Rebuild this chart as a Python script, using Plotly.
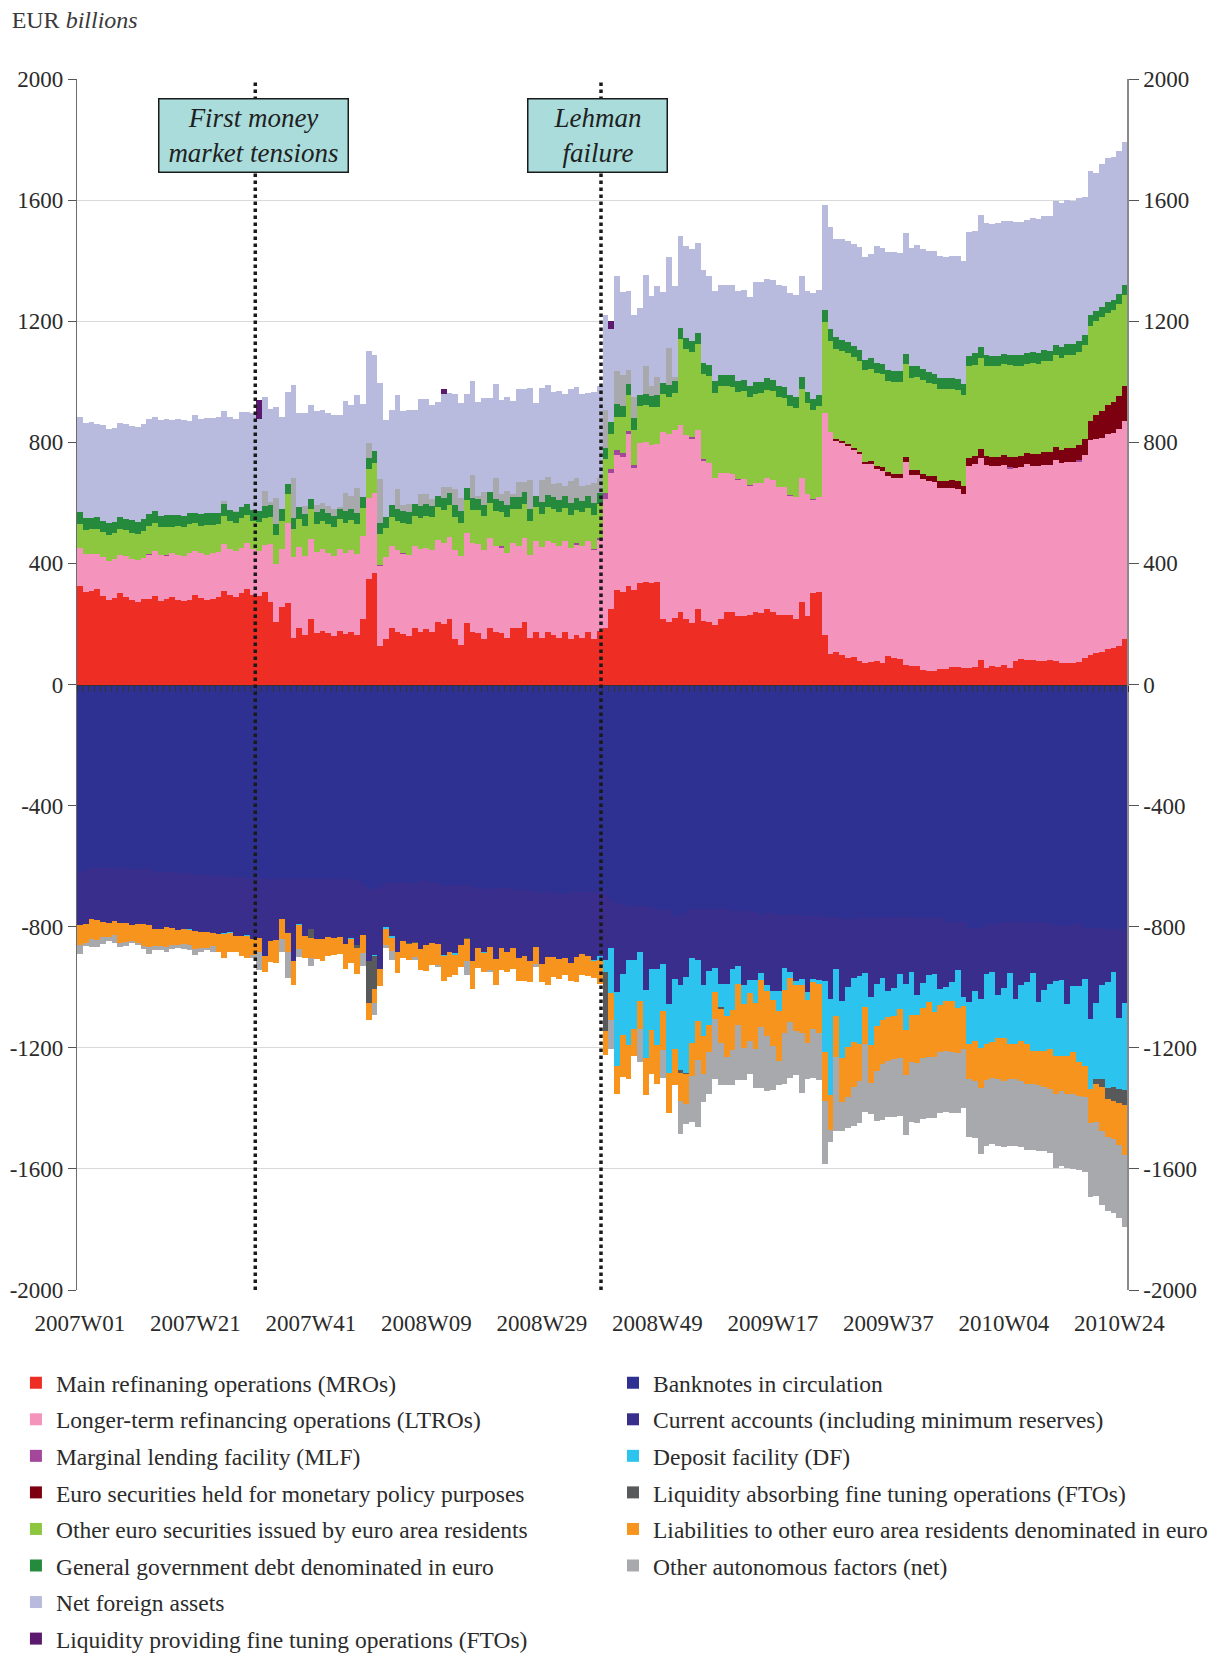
import plotly.graph_objects as go

# week categories 2007W01 .. 2010W25 (ISO weeks: 2009 has 53)
weeks = []
for year, n_weeks in [(2007, 52), (2008, 52), (2009, 53), (2010, 25)]:
    for w in range(1, n_weeks + 1):
        weeks.append('%dW%02d' % (year, w))

tick_labels = ['2007W01', '2007W21', '2007W41', '2008W09', '2008W29',
               '2008W49', '2009W17', '2009W37', '2010W04', '2010W24']
y_ticks = [2000, 1600, 1200, 800, 400, 0, -400, -800, -1200, -1600, -2000]

# ---- liquidity providing factors (EUR bn) ----
mro = [
    327, 307, 310, 314, 292, 279, 285, 301, 288, 279,
    272, 281, 281, 292, 277, 281, 288, 279, 275, 279,
    294, 285, 279, 283, 288, 310, 296, 290, 301, 314,
    296, 292, 307, 274, 208, 255, 268, 153, 188, 162,
    215, 169, 177, 169, 160, 177, 166, 175, 162, 218,
    347, 367, 127, 149, 188, 173, 166, 160, 185, 175,
    182, 175, 208, 199, 215, 149, 129, 202, 173, 169,
    149, 188, 175, 169, 152, 188, 186, 205, 152, 175,
    155, 175, 165, 155, 172, 149, 165, 155, 175, 149,
    178, 188, 248, 311, 304, 324, 311, 334, 337, 334,
    340, 218, 208, 221, 238, 215, 202, 251, 211, 205,
    195, 215, 238, 241, 225, 225, 228, 238, 235, 248,
    241, 231, 231, 228, 218, 274, 225, 301, 307, 165,
    102, 106, 99, 86, 92, 79, 71, 73, 77, 70,
    93, 86, 83, 63, 60, 60, 49, 46, 46, 50,
    50, 57, 57, 53, 53, 57, 80, 53, 60, 57,
    63, 53, 77, 83, 80, 80, 77, 77, 80, 77,
    70, 70, 70, 73, 87, 96, 103, 107, 116, 121,
    126, 150,
]
ltro = [
    123, 123, 120, 116, 130, 129, 128, 128, 136, 136,
    139, 137, 148, 150, 152, 146, 147, 149, 149, 154,
    148, 148, 149, 152, 149, 153, 150, 152, 150, 152,
    150, 149, 155, 189, 189, 191, 264, 268, 265, 264,
    264, 268, 269, 264, 264, 269, 270, 270, 268, 272,
    268, 267, 265, 271, 268, 270, 268, 269, 271, 271,
    268, 268, 268, 270, 271, 294, 294, 297, 293, 294,
    294, 295, 284, 284, 284, 278, 273, 278, 275, 298,
    298, 298, 301, 304, 301, 301, 299, 304, 298, 296,
    302, 424, 449, 446, 446, 502, 404, 463, 463, 456,
    453, 616, 620, 620, 618, 610, 611, 590, 528, 528,
    486, 483, 460, 454, 451, 453, 429, 429, 432, 433,
    433, 422, 420, 397, 401, 407, 405, 310, 312, 731,
    731, 701, 701, 704, 683, 681, 657, 655, 634, 636,
    596, 597, 600, 673, 632, 632, 630, 625, 623, 599,
    599, 592, 589, 575, 668, 670, 668, 672, 661, 664,
    662, 659, 638, 636, 647, 643, 644, 648, 645, 664,
    660, 664, 664, 665, 671, 711, 707, 706, 711, 710,
    719, 721,
]
mlf = [
    0, 0, 0, 0, 0, 0, 0, 0, 0, 0,
    0, 0, 2, 0, 0, 2, 0, 0, 0, 0,
    0, 0, 0, 0, 0, 0, 0, 0, 0, 0,
    0, 0, 0, 0, 0, 0, 0, 0, 0, 0,
    0, 0, 0, 0, 0, 0, 0, 0, 0, 0,
    0, 0, 4, 0, 0, 0, 2, 0, 0, 0,
    0, 0, 0, 0, 0, 0, 0, 0, 0, 0,
    0, 0, 0, 3, 0, 0, 0, 0, 0, 0,
    0, 0, 0, 0, 0, 0, 2, 0, 0, 3,
    5, 22, 15, 16, 16, 10, 10, 0, 0, 0,
    0, 0, 0, 0, 0, 0, 4, 0, 5, 0,
    0, 0, 0, 0, 2, 0, 2, 0, 0, 0,
    0, 0, 0, 2, 0, 0, 0, 2, 0, 0,
    0, 0, 0, 0, 0, 0, 0, 0, 0, 0,
    0, 0, 0, 0, 0, 0, 0, 0, 0, 0,
    0, 0, 0, 0, 0, 0, 0, 0, 0, 0,
    0, 7, 0, 0, 0, 0, 0, 0, 0, 0,
    0, 0, 0, 3, 0, 0, 0, 0, 0, 0,
    0, 0,
]
euro_sec_mpp = [
    0, 0, 0, 0, 0, 0, 0, 0, 0, 0,
    0, 0, 0, 0, 0, 0, 0, 0, 0, 0,
    0, 0, 0, 0, 0, 0, 0, 0, 0, 0,
    0, 0, 0, 0, 0, 0, 0, 0, 0, 0,
    0, 0, 0, 0, 0, 0, 0, 0, 0, 0,
    0, 0, 0, 0, 0, 0, 0, 0, 0, 0,
    0, 0, 0, 0, 0, 0, 0, 0, 0, 0,
    0, 0, 0, 0, 0, 0, 0, 0, 0, 0,
    0, 0, 0, 0, 0, 0, 0, 0, 0, 0,
    0, 0, 0, 0, 0, 0, 0, 0, 0, 0,
    0, 0, 0, 0, 0, 0, 0, 0, 0, 0,
    0, 0, 0, 0, 0, 0, 0, 0, 0, 0,
    0, 0, 0, 0, 0, 0, 0, 0, 0, 0,
    0, 3, 4, 5, 6, 7, 8, 9, 10, 11,
    12, 12, 13, 14, 15, 16, 17, 19, 21, 22,
    23, 25, 26, 27, 28, 29, 29, 30, 31, 32,
    33, 34, 35, 37, 39, 40, 41, 42, 43, 44,
    45, 46, 48, 50, 52, 65, 79, 90, 97, 101,
    107, 115,
]
other_euro_sec = [
    79, 79, 82, 82, 82, 85, 86, 86, 85, 86,
    85, 90, 93, 90, 91, 90, 86, 97, 97, 98,
    92, 91, 99, 93, 92, 93, 95, 92, 99, 93,
    93, 96, 88, 91, 96, 94, 96, 94, 95, 98,
    100, 92, 94, 96, 97, 100, 98, 98, 99, 94,
    98, 97, 100, 96, 98, 97, 98, 100, 99, 103,
    105, 109, 109, 106, 106, 109, 109, 109, 109, 112,
    112, 115, 113, 113, 116, 113, 120, 112, 112, 112,
    109, 112, 113, 110, 109, 109, 109, 110, 110, 111,
    110, 112, 114, 112, 116, 119, 115, 122, 122, 126,
    123, 125, 121, 121, 285, 282, 280, 283, 282, 285,
    281, 287, 287, 287, 289, 291, 291, 292, 295, 291,
    295, 296, 294, 292, 293, 294, 299, 294, 300, 301,
    301, 297, 298, 300, 300, 301, 303, 305, 308, 307,
    303, 303, 303, 307, 306, 309, 309, 305, 301, 304,
    304, 301, 300, 300, 302, 299, 301, 298, 300, 299,
    301, 302, 302, 296, 294, 298, 298, 302, 300, 302,
    303, 309, 305, 307, 311, 311, 311, 311, 303, 305,
    305, 300,
]
gov_debt = [
    40, 40, 39, 40, 37, 39, 39, 39, 39, 41,
    42, 40, 38, 40, 36, 40, 40, 36, 36, 34,
    34, 38, 38, 40, 39, 39, 36, 36, 36, 36,
    39, 35, 40, 39, 36, 39, 35, 36, 37, 38,
    35, 41, 39, 36, 35, 35, 38, 38, 38, 36,
    36, 39, 36, 38, 38, 39, 39, 40, 40, 39,
    40, 36, 36, 40, 39, 40, 40, 40, 40, 37,
    37, 37, 40, 36, 40, 39, 39, 40, 40, 36,
    40, 40, 39, 39, 39, 39, 40, 36, 39, 39,
    39, 36, 41, 41, 37, 37, 39, 36, 37, 36,
    39, 36, 39, 40, 36, 37, 36, 36, 37, 37,
    40, 37, 37, 40, 36, 36, 36, 39, 36, 40,
    36, 36, 37, 36, 37, 40, 36, 36, 36, 39,
    40, 40, 36, 37, 36, 36, 33, 36, 34, 36,
    36, 37, 37, 36, 39, 36, 36, 36, 36, 37,
    37, 37, 37, 37, 35, 39, 36, 35, 34, 32,
    33, 35, 35, 35, 36, 36, 36, 35, 35, 36,
    36, 37, 37, 36, 33, 36, 33, 32, 36, 33,
    32, 33,
]
net_foreign_assets = [
    316, 316, 315, 310, 315, 311, 310, 311, 314, 313,
    313, 312, 314, 313, 318, 317, 312, 317, 316, 306,
    321, 316, 315, 312, 315, 295, 305, 304, 315, 305,
    318, 306, 308, 308, 303, 304, 302, 305, 311, 308,
    310, 310, 308, 306, 308, 305, 305, 300, 305, 306,
    304, 318, 317, 319, 314, 310, 310, 311, 311, 314,
    314, 310, 311, 308, 311, 314, 314, 311, 311, 311,
    310, 310, 311, 311, 311, 308, 307, 307, 305, 308,
    305, 305, 304, 304, 304, 304, 301, 304, 304, 303,
    303, 313, 307, 313, 274, 261, 271, 288, 301, 298,
    301, 301, 301, 301, 304, 304, 304, 298, 307, 294,
    297, 297, 297, 297, 298, 298, 295, 331, 331, 327,
    331, 334, 334, 338, 337, 334, 334, 351, 348, 348,
    337, 324, 334, 334, 338, 341, 341, 345, 385, 381,
    389, 392, 390, 397, 390, 400, 397, 400, 404, 402,
    400, 402, 406, 406, 407, 404, 436, 438, 436, 441,
    439, 440, 440, 440, 439, 443, 443, 443, 444, 475,
    477, 473, 473, 473, 456, 477, 456, 473, 475, 474,
    473, 472,
]
fto_providing = [
    0, 0, 0, 0, 0, 0, 0, 0, 0, 0,
    0, 0, 0, 0, 0, 0, 0, 0, 0, 0,
    0, 0, 0, 0, 0, 0, 0, 0, 0, 0,
    0, 61, 0, 0, 0, 0, 0, 0, 0, 0,
    0, 0, 0, 0, 0, 0, 0, 0, 0, 0,
    0, 0, 0, 0, 0, 0, 0, 0, 0, 0,
    0, 0, 0, 16, 0, 0, 0, 0, 0, 0,
    0, 0, 0, 0, 0, 0, 0, 0, 0, 0,
    0, 0, 0, 0, 0, 0, 0, 0, 0, 0,
    0, 0, 26, 0, 0, 0, 0, 0, 0, 0,
    0, 0, 0, 0, 0, 0, 0, 0, 0, 0,
    0, 0, 0, 0, 0, 0, 0, 0, 0, 0,
    0, 0, 0, 0, 0, 0, 0, 0, 0, 0,
    0, 0, 0, 0, 0, 0, 0, 0, 0, 0,
    0, 0, 0, 0, 0, 0, 0, 0, 0, 0,
    0, 0, 0, 0, 0, 0, 0, 0, 0, 0,
    0, 0, 0, 0, 0, 0, 0, 0, 0, 0,
    0, 0, 0, 0, 0, 0, 0, 0, 0, 0,
    0, 0,
]
# net value, shown above when positive and below when negative
other_autonomous = [
    -29, -11, -27, -25, -22, -12, -26, -14, -15, -8,
    -6, -11, -21, -15, -11, -14, -14, -11, -18, -14,
    -19, -11, -7, -18, 0, 12, 0, 4, 0, 0,
    -11, -60, 50, 10, 86, -41, -83, 132, -27, 28,
    -27, 22, 19, 25, 25, 5, 59, 41, 83, -42,
    50, -39, 146, -12, -28, 66, 19, 26, -8, 40,
    33, 24, -9, 36, 20, 53, 43, -48, 76, 9,
    43, -9, 69, 23, 46, 10, 50, 33, 95, -6,
    72, 59, 43, 57, 34, 73, 66, 50, 36, 66,
    49, 125, -96, 110, 103, 46, 70, -108, 92, 33,
    60, -93, 123, 13, -109, -66, -152, -221, -93, -139,
    -198, -139, -93, -116, -182, -106, -109, -129, -202, -182,
    -145, -79, -169, -185, -145, -198, -119, -162, -155, -208,
    -40, -245, -96, -102, -129, -139, -226, -104, -164, -184,
    -185, -191, -190, -198, -200, -198, -201, -200, -200, -202,
    -201, -203, -198, -194, -192, -189, -218, -219, -219, -221,
    -219, -222, -222, -217, -219, -219, -216, -214, -213, -246,
    -249, -246, -246, -246, -248, -242, -245, -243, -245, -242,
    -240, -236,
]

# ---- liquidity absorbing factors (EUR bn) ----
banknotes = [
    -620, -614, -607, -607, -607, -607, -607, -607, -609, -609,
    -609, -609, -609, -623, -619, -619, -619, -623, -623, -623,
    -628, -628, -628, -631, -631, -631, -636, -636, -636, -640,
    -640, -640, -642, -642, -642, -641, -641, -641, -641, -641,
    -641, -642, -642, -642, -642, -642, -642, -647, -647, -659,
    -676, -676, -669, -656, -656, -651, -651, -654, -654, -650,
    -650, -656, -656, -667, -667, -663, -663, -663, -667, -674,
    -674, -674, -672, -672, -672, -678, -678, -678, -678, -687,
    -687, -687, -687, -691, -691, -684, -684, -684, -684, -684,
    -684, -694, -713, -724, -724, -731, -731, -731, -735, -735,
    -744, -744, -744, -764, -764, -755, -742, -742, -742, -742,
    -740, -740, -740, -747, -747, -747, -747, -750, -762, -755,
    -755, -762, -762, -762, -762, -764, -764, -764, -764, -768,
    -768, -768, -773, -773, -773, -771, -771, -771, -771, -771,
    -767, -767, -767, -767, -771, -771, -771, -771, -771, -771,
    -785, -785, -785, -785, -805, -805, -805, -791, -791, -791,
    -785, -785, -785, -785, -785, -785, -789, -789, -789, -797,
    -797, -797, -792, -792, -805, -805, -805, -805, -808, -808,
    -808, -808,
]
current_accounts = [
    -176, -177, -168, -172, -177, -182, -173, -181, -179, -185,
    -182, -182, -187, -184, -188, -181, -184, -187, -185, -185,
    -185, -190, -188, -189, -192, -190, -183, -194, -196, -188,
    -201, -196, -256, -205, -203, -134, -180, -272, -152, -189,
    -167, -197, -197, -191, -194, -191, -214, -192, -213, -168,
    -237, -218, -270, -147, -177, -231, -195, -200, -197, -222,
    -212, -198, -200, -228, -216, -226, -197, -175, -246, -195,
    -210, -192, -234, -198, -211, -192, -226, -218, -235, -179,
    -235, -214, -212, -216, -212, -235, -215, -205, -212, -228,
    -212, -215, -157, -293, -231, -178, -178, -152, -273, -204,
    -195, -178, -311, -208, -228, -210, -161, -167, -250, -204,
    -196, -249, -249, -192, -182, -245, -228, -225, -190, -237,
    -257, -250, -174, -187, -217, -208, -251, -208, -211, -211,
    -270, -171, -272, -225, -196, -191, -182, -262, -217, -200,
    -247, -236, -190, -222, -180, -256, -215, -190, -184, -236,
    -214, -196, -159, -248, -244, -209, -235, -166, -159, -236,
    -219, -168, -255, -206, -198, -168, -260, -221, -201, -182,
    -180, -259, -205, -205, -169, -301, -248, -186, -173, -140,
    -293, -245,
]
deposit_facility = [
    0, 0, 0, 0, 0, 0, 0, 0, 0, 0,
    0, 0, 0, 0, 0, 0, 0, 0, 0, -2,
    0, 0, 0, 0, 0, -2, -2, 0, 0, -2,
    0, 0, 0, 0, 0, 0, 0, 0, -2, 0,
    0, 0, 0, 0, 0, 0, 0, -2, 0, 0,
    0, -4, 0, -4, -3, 0, 0, 0, 0, 0,
    0, 0, 0, -3, 0, -3, 0, 0, 0, 0,
    -3, 0, 0, 0, 0, 0, 0, 0, 0, 0,
    0, 0, 0, 0, 0, 0, 0, 0, 0, -2,
    -13, -40, -149, -243, -202, -281, -228, -162, -225, -202,
    -251, -158, -228, -231, -281, -319, -281, -202, -168, -179,
    -79, -79, -105, -135, -60, -62, -45, -76, -23, -20,
    -30, -66, -73, -20, -13, -20, -26, -10, -14, -234,
    -317, -155, -188, -199, -211, -225, -111, -159, -141, -138,
    -85, -91, -116, -153, -142, -66, -83, -88, -127, -53,
    -48, -66, -126, -29, -137, -162, -161, -229, -231, -142,
    -165, -233, -149, -188, -205, -259, -163, -200, -215, -247,
    -249, -170, -217, -250, -285, -229, -251, -313, -352, -382,
    -235, -287,
]
fto_absorbing = [
    0, 0, 0, 0, 0, 0, 0, 0, 0, 0,
    0, 0, 0, 0, 0, 0, 0, 0, 0, 0,
    0, 0, 0, 0, 0, 0, 0, 0, 0, 0,
    0, 0, 0, 0, 0, 0, 0, 0, 0, 0,
    -30, 0, 0, 0, 0, 0, 0, 0, -9, 0,
    -139, -107, 0, 0, 0, 0, 0, -3, -3, 0,
    0, 0, 0, 0, 0, 0, 0, -3, 0, 0,
    0, 0, 0, 0, 0, 0, 0, 0, 0, 0,
    0, 0, 0, 0, 0, 0, 0, 0, 0, 0,
    0, -195, 0, 0, 0, 0, 0, 0, 0, 0,
    0, 0, 0, 0, -10, -2, 0, 0, 0, 0,
    0, -3, 0, 0, 0, 0, 0, 0, 0, 0,
    0, 0, 0, 0, 0, 0, 0, 0, 0, 0,
    0, 0, 0, 0, 0, 0, 0, 0, 0, 0,
    0, 0, 0, 0, 0, 0, 0, 0, 0, 0,
    0, 0, 0, 0, 0, 0, 0, 0, 0, 0,
    0, 0, 0, 0, 0, 0, 0, 0, 0, 0,
    0, 0, 0, 0, 0, 0, -16, -26, -35, -45,
    -47, -50,
]
liabilities_other = [
    -64, -63, -66, -64, -50, -45, -48, -66, -62, -52,
    -63, -72, -72, -56, -58, -68, -57, -50, -48, -52,
    -61, -53, -55, -45, -59, -82, -61, -53, -66, -74,
    -52, -46, -50, -71, -75, -66, -64, -79, -79, -72,
    -64, -68, -74, -65, -58, -58, -83, -79, -86, -60,
    -56, -47, -58, -52, -45, -72, -57, -52, -47, -71,
    -84, -72, -69, -80, -82, -68, -72, -72, -93, -66,
    -61, -76, -88, -73, -68, -69, -75, -83, -68, -60,
    -60, -90, -68, -65, -58, -60, -85, -69, -68, -56,
    -79, -79, -88, -93, -138, -112, -89, -93, -122, -145,
    -129, -127, -132, -119, -93, -99, -109, -129, -126, -88,
    -89, -112, -136, -132, -136, -147, -156, -152, -155, -149,
    -152, -165, -142, -145, -152, -159, -142, -155, -162, -162,
    -116, -136, -145, -165, -149, -122, -122, -124, -149, -145,
    -144, -143, -162, -148, -153, -158, -166, -182, -149, -153,
    -164, -166, -148, -142, -116, -134, -132, -120, -119, -133,
    -141, -117, -114, -131, -131, -107, -112, -118, -130, -125,
    -117, -125, -139, -112, -104, -115, -126, -146, -125, -127,
    -139, -165,
]

series_check = dict(mro=mro, ltro=ltro, mlf=mlf, euro_sec_mpp=euro_sec_mpp,
                    other_euro_sec=other_euro_sec, gov_debt=gov_debt,
                    net_foreign_assets=net_foreign_assets, fto_providing=fto_providing,
                    other_autonomous=other_autonomous, banknotes=banknotes,
                    current_accounts=current_accounts, deposit_facility=deposit_facility,
                    fto_absorbing=fto_absorbing, liabilities_other=liabilities_other)
for k, v in series_check.items():
    if len(v) != len(weeks):
        raise ValueError('%s has %d values, expected %d' % (k, len(v), len(weeks)))

autonomous_pos = [max(v, 0) for v in other_autonomous]
autonomous_neg = [min(v, 0) for v in other_autonomous]

SERIF = 'Liberation Serif'
TEXT = '#2b2b2b'

# stacking order = trace order (positives upward, negatives downward)
layers = [
    ('Main refinaning operations (MROs)', mro, '#EE2D24', 'legend', True),
    ('Longer-term refinancing operations (LTROs)', ltro, '#F493BC', 'legend', True),
    ('Marginal lending facility (MLF)', mlf, '#A3479B', 'legend', True),
    ('Euro securities held for monetary policy purposes', euro_sec_mpp, '#7D0011', 'legend', True),
    ('Other euro securities issued by euro area residents', other_euro_sec, '#8DC63F', 'legend', True),
    ('General government debt denominated in euro', gov_debt, '#268A3C', 'legend', True),
    ('Other autonomous factors (net)', autonomous_pos, '#A7A9AC', 'legend2', False),
    ('Net foreign assets', net_foreign_assets, '#B8BBDE', 'legend', True),
    ('Liquidity providing fine tuning operations (FTOs)', fto_providing, '#5C1A6E', 'legend', True),
    ('Banknotes in circulation', banknotes, '#2E3192', 'legend2', True),
    ('Current accounts (including minimum reserves)', current_accounts, '#3A2E8D', 'legend2', True),
    ('Deposit facility (DF)', deposit_facility, '#2CC4EE', 'legend2', True),
    ('Liquidity absorbing fine tuning operations (FTOs)', fto_absorbing, '#58595B', 'legend2', True),
    ('Liabilities to other euro area residents denominated in euro', liabilities_other, '#F7941E', 'legend2', True),
    ('Other autonomous factors (net)', autonomous_neg, '#A7A9AC', 'legend2', True),
]

fig = go.Figure()
for name, values, color, legend, show in layers:
    fig.add_trace(go.Bar(
        x=weeks, y=values, name=name, marker_color=color, marker_line_width=0,
        legend=legend, showlegend=show, legendgroup=name,
    ))

# invisible trace so the overlay axes (zero line ticks, right axis) get drawn
fig.add_trace(go.Scatter(x=[None], y=[None], xaxis='x2', yaxis='y2',
                         showlegend=False, hoverinfo='skip'))

# event markers
for xpos in [30.37, 90.24]:
    fig.add_shape(type='line', x0=xpos, x1=xpos, y0=-2000, y1=2000, xref='x', yref='y',
                  line=dict(color='#1a1a1a', width=3.5, dash='dot'), layer='above')

box_font = dict(family=SERIF, size=27, color='#1f1f1f')
fig.add_annotation(x=29.98, y=1815, xref='x', yref='y', showarrow=False,
                   text='<i>First money<br>market tensions</i>', font=box_font,
                   bgcolor='#A9DCDB', bordercolor='#1a1a1a', borderwidth=1.5,
                   borderpad=0, width=188, height=72)
fig.add_annotation(x=89.6, y=1815, xref='x', yref='y', showarrow=False,
                   text='<i>Lehman<br>failure</i>', font=box_font,
                   bgcolor='#A9DCDB', bordercolor='#1a1a1a', borderwidth=1.5,
                   borderpad=0, width=138, height=72)

legend_style = dict(font=dict(family=SERIF, size=23.5, color=TEXT), bgcolor='rgba(0,0,0,0)',
                    orientation='v', tracegroupgap=3, itemwidth=30,
                    yanchor='top', xanchor='left')

y_ticktext = [str(v) for v in y_ticks]

# the page body adds an 8px offset, so the figure is 8px smaller than the window
fig.update_layout(
    width=1211, height=1649,
    template='plotly_white',
    barmode='relative', bargap=0,
    plot_bgcolor='white', paper_bgcolor='white',
    font=dict(family=SERIF, color=TEXT),
    margin=dict(l=69, r=91, t=71, b=367, autoexpand=False),
    title=dict(text='EUR <i>billions</i>', x=0.003, xanchor='left', y=0.998, yanchor='top',
               font=dict(family=SERIF, size=24, color='#3a3a3a')),
    xaxis=dict(
        type='category', range=[-0.5, 181.5],
        tickmode='array', tickvals=tick_labels, ticktext=tick_labels,
        ticks='', showgrid=False, showline=False, zeroline=False,
        tickfont=dict(family=SERIF, size=23, color=TEXT), ticklabelstandoff=17,
    ),
    xaxis2=dict(
        overlaying='x', anchor='free', position=0.5, range=[-0.5, 181.5],
        tick0=0.5, dtick=1, ticks='outside', ticklen=6, tickwidth=1, tickcolor='#333333',
        showticklabels=False, showgrid=False, zeroline=False,
        showline=True, linecolor='#333333', linewidth=1,
    ),
    yaxis=dict(
        range=[-2000, 2000], tickmode='array', tickvals=y_ticks, ticktext=y_ticktext,
        ticks='outside', ticklen=8, tickcolor='#555555', tickwidth=1,
        showline=True, linecolor='#6b6b6b', linewidth=1.2,
        showgrid=True, gridcolor='#d9d9d9', gridwidth=1, zeroline=False,
        tickfont=dict(family=SERIF, size=23, color=TEXT),
    ),
    yaxis2=dict(
        overlaying='y', side='right', anchor='free', position=1.0,
        range=[-2000, 2000], tickmode='array', tickvals=y_ticks, ticktext=y_ticktext,
        ticks='outside', ticklen=10, tickcolor='#555555', tickwidth=1,
        showline=True, linecolor='#8a8a8a', linewidth=1.5,
        showgrid=False, zeroline=False,
        tickfont=dict(family=SERIF, size=23, color=TEXT),
    ),
    legend=dict(x=-0.0581, y=-0.0586, **legend_style),
    legend2=dict(x=0.51, y=-0.0586, **legend_style),
)

fig.write_html('out.html')
